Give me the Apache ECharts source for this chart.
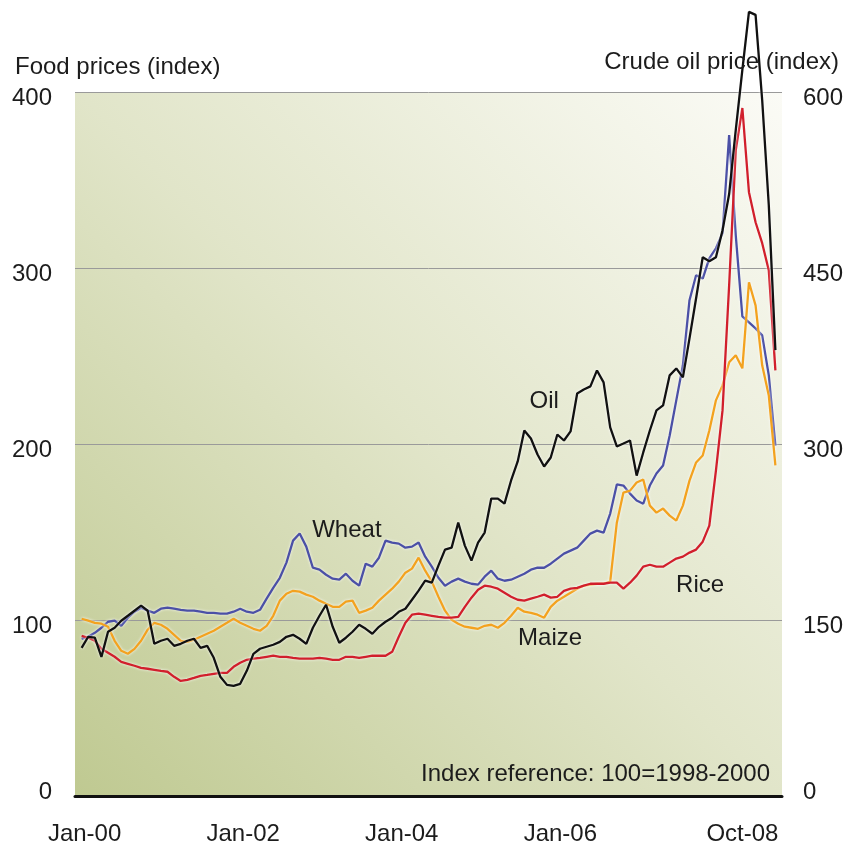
<!DOCTYPE html>
<html>
<head>
<meta charset="utf-8">
<script src="https://cdn.jsdelivr.net/npm/echarts@6/dist/echarts.min.js"></script>
<style>html,body{margin:0;padding:0;background:#fff}#c{width:848px;height:848px}</style>
</head>
<body>
<div id="c"></div>
<script>
// Monthly data, Jan-00 (index 0) to Oct-08 (index 105)
const xTickLabels = {0: 'Jan-00', 24: 'Jan-02', 48: 'Jan-04', 72: 'Jan-06', 105: 'Oct-08'};
const leftTicks = [0, 100, 200, 300, 400];
const rightTicks = [0, 150, 300, 450, 600];

const wheat = [89.3,90.5,92.7,95.6,99.0,99.6,96.7,101.3,104.7,107.0,105.3,104.1,106.4,107.0,106.4,105.8,105.3,105.3,104.7,104.1,104.1,103.6,103.6,104.7,106.4,104.7,104.1,105.8,112.1,118.3,124.0,132.6,145.1,149.1,141.7,129.7,128.6,125.7,123.5,122.9,126.3,122.3,119.5,132.0,130.3,135.4,145.1,144.0,143.4,141.1,141.7,144.0,136.0,130.3,124.0,119.5,121.8,123.5,121.8,120.6,120.1,124.6,128.0,123.5,122.3,122.9,124.6,126.3,128.6,129.7,129.7,132.0,134.9,137.7,139.4,141.1,145.1,149.1,150.8,149.6,160.5,177.0,176.4,171.8,167.9,166.1,176.4,183.2,187.8,204.8,224.8,244.7,281.7,295.9,294.0,305.5,311.2,319.8,375.5,318.6,272.5,269.1,265.7,261.7,239.0,199.1];
const maize = [100.7,99.6,98.4,97.9,96.2,88.2,82.5,80.8,83.6,88.2,94.5,98.4,97.3,95.0,91.6,88.2,87.6,88.8,90.5,92.2,93.9,96.2,98.4,100.7,98.4,96.7,95.0,93.9,96.7,102.4,111.0,114.9,116.6,116.1,114.4,113.2,111.0,109.2,107.5,107.5,110.4,111.0,104.1,105.3,107.0,111.0,114.4,117.8,121.8,126.9,129.2,135.4,128.0,121.8,113.2,105.3,100.1,97.9,96.2,95.6,95.0,96.7,97.3,95.6,98.4,102.4,107.0,104.7,104.1,103.0,101.3,107.5,111.0,113.2,115.5,117.8,119.5,120.1,120.6,120.6,121.8,155.3,172.4,173.5,178.1,179.8,165.0,161.0,163.3,159.3,156.5,165.0,179.2,189.5,193.5,207.7,224.8,233.3,246.4,250.4,243.0,291.9,278.8,244.7,227.6,187.8];
const rice = [91.0,89.9,88.2,83.6,81.4,79.1,76.2,75.1,74.0,72.8,72.3,71.7,71.1,70.6,67.7,65.4,66.0,67.1,68.3,68.8,69.4,70.0,70.0,73.4,75.7,77.4,78.0,78.5,79.1,79.7,79.1,79.1,78.5,78.0,78.0,78.0,78.5,78.0,77.4,77.4,79.1,79.1,78.5,79.1,79.7,79.7,79.7,81.9,90.5,98.4,103.0,103.6,103.0,102.4,101.8,101.3,101.3,101.8,107.5,112.7,117.2,119.5,118.9,117.8,115.5,113.2,111.5,111.0,112.1,113.2,114.4,112.7,113.2,116.6,117.8,118.3,119.5,120.6,120.6,120.6,121.2,121.2,117.8,121.2,125.2,130.3,131.4,130.3,130.3,132.6,134.9,136.0,138.3,140.0,144.5,153.6,184.9,219.1,290.2,367.0,390.9,343.1,326.0,314.1,298.7,241.8];
const oil = [126.3,135.7,134.9,118.6,140.0,143.4,149.4,153.6,157.9,162.2,157.9,129.7,132.3,134.0,128.0,129.7,132.3,134.0,126.3,128.0,117.8,101.6,94.7,93.9,95.6,106.7,121.2,125.5,127.2,128.9,131.4,135.7,137.4,134.0,129.7,143.4,153.6,163.0,144.2,130.6,134.9,140.0,146.0,142.5,138.3,144.2,148.5,151.9,157.0,159.6,167.3,175.0,183.5,181.8,196.3,210.0,211.7,233.0,213.4,200.6,215.9,224.5,253.5,253.5,249.2,268.9,285.1,311.5,304.7,291.0,280.8,288.5,308.1,303.0,310.7,343.1,346.5,349.1,362.7,352.5,314.1,297.9,300.4,303.0,273.1,292.8,311.5,328.6,332.9,358.5,364.4,356.8,390.0,424.2,459.2,455.8,459.2,482.2,513.0,567.6,618.8,668.3,665.7,593.2,503.6,380.0];

const FONT = 'Liberation Sans, Arial, sans-serif';
const TXT = '#1c1c1c';
const pairs = arr => arr.map((v, i) => [i, v]);
const halo = {shadowColor: 'rgba(255,255,255,0.9)', shadowBlur: 3};

const chart = echarts.init(document.getElementById('c'), null, {renderer: 'canvas'});
const lbl = (text) => ({
  symbol: 'circle', symbolSize: 0, silent: true,
  label: {show: true, position: 'inside', formatter: text, color: TXT, fontSize: 24, fontFamily: FONT}
});
const yLabel = (margin) => ({
  margin: margin, color: TXT, fontSize: 24, fontFamily: FONT,
  formatter: v => v === 0 ? '{z|0}' : '{a|' + v + '}',
  rich: {
    a: {fontSize: 24, fontFamily: FONT, color: TXT, padding: [12, 0, 0, 0]},
    z: {fontSize: 24, fontFamily: FONT, color: TXT, padding: [0, 0, 8, 0]}
  }
});
chart.setOption({
  animation: false,
  backgroundColor: '#ffffff',
  title: [
    {text: 'Food prices (index)', left: 10, top: 50, textStyle: {fontSize: 24, fontWeight: 'normal', fontFamily: FONT, color: TXT}},
    {text: 'Crude oil price (index)', right: 4, top: 45, textStyle: {fontSize: 24, fontWeight: 'normal', fontFamily: FONT, color: TXT}}
  ],
  grid: {
    left: 75, right: 66, top: 92, bottom: 52, show: true, borderWidth: 0,
    backgroundColor: new echarts.graphic.LinearGradient(0, 1, 1, 0, [
      {offset: 0, color: '#bfc991'},
      {offset: 0.5, color: '#e1e5c9'},
      {offset: 1, color: '#fbfbf6'}
    ])
  },
  xAxis: {
    type: 'value', min: -1, max: 106, interval: 1,
    axisLine: {show: true, onZero: false, lineStyle: {color: '#111', width: 3}},
    axisTick: {show: false},
    splitLine: {show: false},
    axisLabel: {
      margin: 26, fontSize: 24, fontFamily: FONT, color: TXT,
      formatter: v => v === 105 ? '{r|' + xTickLabels[v] + '}' : (xTickLabels[v] ? '{l|' + xTickLabels[v] + '}' : ''),
      rich: {
        r: {fontSize: 24, fontFamily: FONT, color: TXT, padding: [0, 66, 0, 0]},
        l: {fontSize: 24, fontFamily: FONT, color: TXT, padding: [0, 0, 0, 6]}
      }
    }
  },
  yAxis: [
    {
      type: 'value', min: leftTicks[0], max: leftTicks[leftTicks.length - 1], interval: 100, position: 'left',
      axisLine: {show: false}, axisTick: {show: false},
      splitLine: {show: true, lineStyle: {color: '#9a9a9a', width: 1}},
      axisLabel: yLabel(23)
    },
    {
      type: 'value', min: rightTicks[0], max: rightTicks[rightTicks.length - 1], interval: 150, position: 'right',
      axisLine: {show: false}, axisTick: {show: false}, splitLine: {show: false},
      axisLabel: yLabel(21)
    }
  ],
  graphic: [
    {type: 'text', right: 78, top: 762, style: {text: 'Index reference: 100=1998-2000', font: '24px ' + FONT, fill: TXT}}
  ],
  series: [
    {name: 'Wheat', type: 'line', data: pairs(wheat), showSymbol: false, yAxisIndex: 0,
     lineStyle: Object.assign({color: '#4b50a6', width: 2.3}, halo), itemStyle: {color: '#4b50a6'},
     markPoint: {data: [Object.assign({coord: [40.15, 150.8]}, lbl('Wheat'))]}},
    {name: 'Maize', type: 'line', data: pairs(maize), showSymbol: false, yAxisIndex: 0,
     lineStyle: Object.assign({color: '#f3a21f', width: 2.3}, halo), itemStyle: {color: '#f3a21f'},
     markPoint: {data: [Object.assign({coord: [70.9, 89.3]}, lbl('Maize'))]}},
    {name: 'Rice', type: 'line', data: pairs(rice), showSymbol: false, yAxisIndex: 0,
     lineStyle: Object.assign({color: '#d11f2c', width: 2.3}, halo), itemStyle: {color: '#d11f2c'},
     markPoint: {data: [Object.assign({coord: [93.6, 119.5]}, lbl('Rice'))]}},
    {name: 'Oil', type: 'line', data: pairs(oil), showSymbol: false, yAxisIndex: 1, clip: false,
     lineStyle: Object.assign({color: '#111111', width: 2.3}, halo), itemStyle: {color: '#111'},
     markPoint: {data: [Object.assign({coord: [70.0, 336.3]}, lbl('Oil'))]}}
  ]
});
</script>
</body>
</html>
